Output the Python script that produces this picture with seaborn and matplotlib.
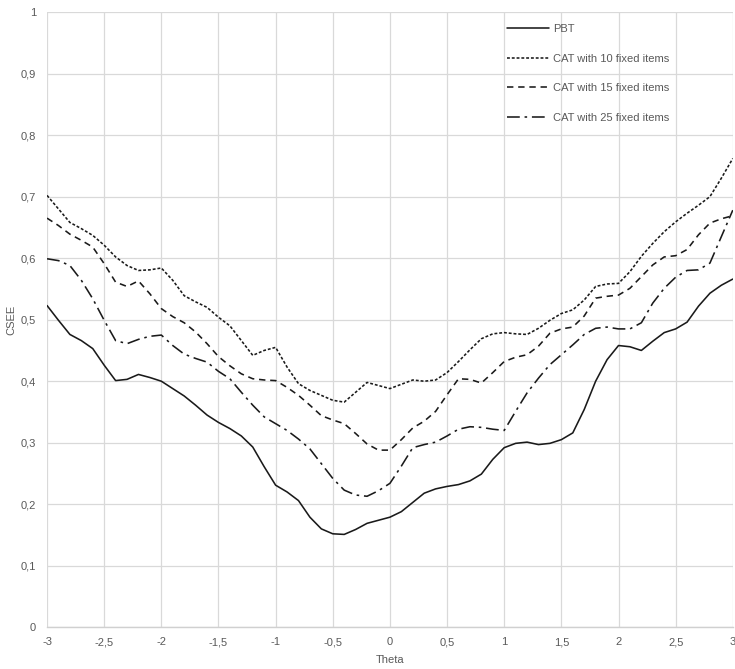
import numpy as np
import pandas as pd
import matplotlib
matplotlib.use("Agg")
import matplotlib.pyplot as plt
import seaborn as sns

theta = [round(-3 + 0.1 * i, 1) for i in range(61)]

pbt = [0.523, 0.499, 0.476, 0.466, 0.453, 0.426, 0.401, 0.403, 0.411, 0.406,
       0.400, 0.388, 0.376, 0.361, 0.345, 0.333, 0.323, 0.311, 0.293, 0.261,
       0.231, 0.220, 0.206, 0.179, 0.160, 0.152, 0.151, 0.159, 0.169, 0.174,
       0.179, 0.188, 0.203, 0.218, 0.225, 0.229, 0.232, 0.238, 0.249, 0.273,
       0.292, 0.299, 0.301, 0.297, 0.299, 0.305, 0.316, 0.354, 0.400, 0.435,
       0.458, 0.456, 0.450, 0.465, 0.479, 0.485, 0.496, 0.522, 0.543, 0.556,
       0.566]

cat10 = [0.702, 0.680, 0.658, 0.648, 0.637, 0.621, 0.602, 0.588, 0.580, 0.581,
         0.584, 0.564, 0.539, 0.529, 0.520, 0.504, 0.490, 0.466, 0.442, 0.450,
         0.455, 0.423, 0.396, 0.385, 0.377, 0.369, 0.366, 0.382, 0.398, 0.393,
         0.388, 0.395, 0.402, 0.400, 0.402, 0.414, 0.432, 0.451, 0.469, 0.477,
         0.479, 0.477, 0.476, 0.486, 0.499, 0.510, 0.516, 0.532, 0.554, 0.558,
         0.559, 0.578, 0.603, 0.624, 0.643, 0.659, 0.673, 0.686, 0.700, 0.730,
         0.762]

cat15 = [0.665, 0.653, 0.639, 0.629, 0.618, 0.591, 0.561, 0.554, 0.563, 0.542,
         0.518, 0.505, 0.495, 0.480, 0.461, 0.440, 0.425, 0.412, 0.404, 0.402,
         0.401, 0.390, 0.377, 0.361, 0.344, 0.337, 0.331, 0.315, 0.298, 0.288,
         0.288, 0.305, 0.324, 0.335, 0.351, 0.378, 0.404, 0.403, 0.397, 0.414,
         0.432, 0.439, 0.443, 0.457, 0.478, 0.485, 0.488, 0.506, 0.535, 0.538,
         0.540, 0.551, 0.570, 0.589, 0.602, 0.604, 0.614, 0.638, 0.657, 0.664,
         0.669]

cat25 = [0.599, 0.596, 0.588, 0.564, 0.534, 0.499, 0.466, 0.461, 0.468, 0.473,
         0.475, 0.458, 0.444, 0.437, 0.431, 0.416, 0.404, 0.382, 0.361, 0.342,
         0.331, 0.320, 0.306, 0.290, 0.266, 0.242, 0.223, 0.215, 0.213, 0.222,
         0.234, 0.262, 0.292, 0.297, 0.301, 0.311, 0.322, 0.326, 0.325, 0.322,
         0.320, 0.351, 0.381, 0.405, 0.427, 0.443, 0.459, 0.476, 0.486, 0.488,
         0.485, 0.485, 0.495, 0.527, 0.551, 0.569, 0.580, 0.581, 0.592, 0.635,
         0.678]

series_names = ["PBT", "CAT with 10 fixed items", "CAT with 15 fixed items",
                "CAT with 25 fixed items"]
xtick_vals = [-3, -2.5, -2, -1.5, -1, -0.5, 0, 0.5, 1, 1.5, 2, 2.5, 3]
xtick_labels = ["-3", "-2,5", "-2", "-1,5", "-1", "-0,5", "0", "0,5", "1",
                "1,5", "2", "2,5", "3"]
ytick_vals = [0, 0.1, 0.2, 0.3, 0.4, 0.5, 0.6, 0.7, 0.8, 0.9, 1]
ytick_labels = ["0", "0,1", "0,2", "0,3", "0,4", "0,5", "0,6", "0,7", "0,8",
                "0,9", "1"]

df = pd.DataFrame({
    "Theta": theta * 4,
    "CSEE": pbt + cat10 + cat15 + cat25,
    "Series": sum([[n] * len(theta) for n in series_names], []),
})

sns.set_theme(style="white")
plt.rcParams["font.family"] = ["Liberation Sans", "DejaVu Sans"]

fig = plt.figure(figsize=(7.35, 6.69), dpi=100)
ax = fig.add_axes([0.064, 0.0623, 0.933, 0.9197])

dash_map = {
    "PBT": "",
    "CAT with 10 fixed items": (1.8, 1.2),
    "CAT with 15 fixed items": (4, 3),
    "CAT with 25 fixed items": (8, 3, 1.6, 3),
}

sns.lineplot(data=df, x="Theta", y="CSEE", style="Series", dashes=dash_map,
             color="#1a1a1a", linewidth=1.15, ax=ax, legend=True,
             style_order=series_names)
for ln in ax.get_lines():
    ln.set_solid_joinstyle("round")
    ln.set_dash_joinstyle("round")

ax.set_xlim(-3, 3)
ax.set_ylim(0, 1)
ax.set_xticks(xtick_vals)
ax.set_xticklabels(xtick_labels)
ax.set_yticks(ytick_vals)
ax.set_yticklabels(ytick_labels)
ax.grid(True, color="#d9d9d9", linewidth=0.9)
ax.set_axisbelow(True)
for s in ["top", "right", "left"]:
    ax.spines[s].set_visible(False)
ax.spines["bottom"].set_color("#d0d0d0")
ax.spines["bottom"].set_linewidth(1.0)
ax.tick_params(axis="both", length=0, labelsize=8, colors="#595959")
ax.tick_params(axis="y", pad=8)
ax.tick_params(axis="x", pad=7)
ax.set_xlabel("Theta", fontsize=8, color="#595959", labelpad=6)
ax.set_ylabel("CSEE", fontsize=8, color="#595959", labelpad=3)

handles, labels = ax.get_legend_handles_labels()
leg = ax.legend(handles, labels, loc="upper left", bbox_to_anchor=(0.662, 0.990),
                frameon=False, fontsize=8, labelspacing=1.78,
                handlelength=3.8, handletextpad=0.35, borderpad=0.0)
for t in leg.get_texts():
    t.set_color("#595959")

fig.savefig("out.png", dpi=100)
